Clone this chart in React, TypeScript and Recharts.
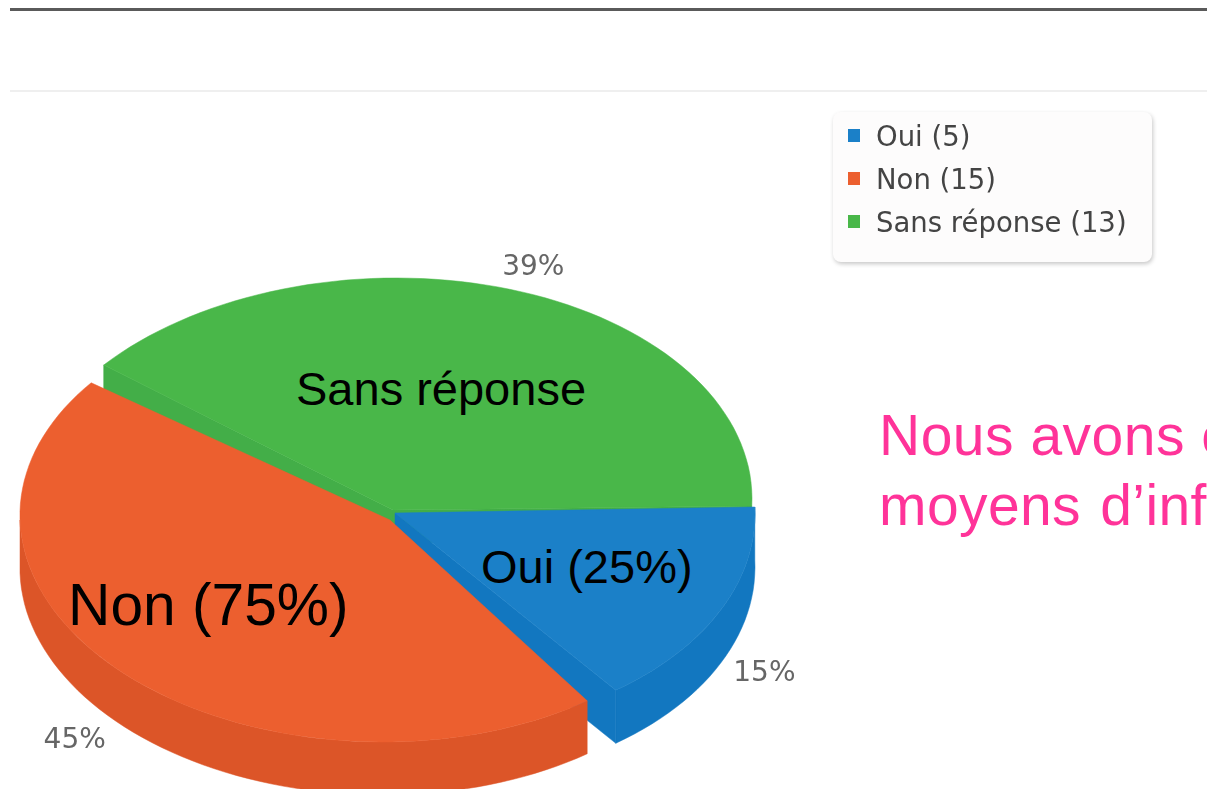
import React from 'react';
import { PieChart, Pie, Legend } from 'recharts';

const categories = ['Oui', 'Non', 'Sans réponse'];
const counts = [5, 15, 13];
const colors = ['#1b80c8', '#ec5f2f', '#49b749'];
const wallColors = ['#1277c0', '#dc5528', '#43ae48'];
const sliceLabels = ['Oui (25%)', 'Non (75%)', 'Sans réponse'];

const rows = categories.map((name, i) => ({ name, value: counts[i], fill: colors[i], wall: wallColors[i] }));

// projection of each exploded slice: arc offset, apex offset, radii and shear relative to the pie centre
const geom: Record<string, any> = {
  Oui: { ox: 12, oy: -3, ax: 5, ay: 3, sx: 0.98, ry: 225, thick: 53, sh: 0.05, lx: 1.17, ly: 161 },
  Non: { ox: -15, oy: 10, ax: 0, ay: 10, sx: 0.986, ry: 222, thick: 53, sh: 0.035, lx: 1.21, ly: 228 },
  'Sans réponse': { ox: -5, oy: -4, ax: 3, ay: 0, sx: 1.019, ry: 228, thick: 33, sh: -0.05, lx: 1.217, ly: -245 },
};
const drawOrder = ['Sans réponse', 'Oui', 'Non'];
const RAD = Math.PI / 180;

function pts(cx: number, cy: number, rx: number, ry: number, sh: number, a: number, b: number) {
  const n = Math.max(2, Math.ceil(Math.abs(a - b) / 2));
  const out: [number, number][] = [];
  for (let i = 0; i <= n; i++) {
    const t = (a + ((b - a) * i) / n) * RAD;
    const dy = -ry * Math.sin(t);
    out.push([cx + rx * Math.cos(t) + sh * dy, cy + dy]);
  }
  return out;
}
const toPath = (p: [number, number][]) => 'M' + p.map((q) => q[0].toFixed(1) + ' ' + q[1].toFixed(1)).join('L') + 'Z';

function makeSlice(only: string) {
  return function Slice(props: any) {
    const name = props.name ?? props.payload?.name;
    if (name !== only) return <g />;
    const g = geom[name];
    const { cx, cy, outerRadius, startAngle, endAngle, fill } = props;
    const wall = props.wall ?? props.payload?.wall;
    const ax = cx + g.ax;
    const ay = cy + g.ay;
    const acx = cx + g.ox;
    const acy = cy + g.oy;
    const rx = outerRadius * g.sx;
    const top = pts(acx, acy, rx, g.ry, g.sh, startAngle, endAngle);
    const walls: string[] = [];
    const vStart = Math.min(startAngle, 0);
    const vEnd = Math.max(endAngle, -180);
    if (vStart > vEnd) {
      const arc = pts(acx, acy, rx, g.ry, g.sh, vStart, vEnd);
      const low = arc.map((q) => [q[0], q[1] + g.thick] as [number, number]).reverse();
      walls.push(toPath([...arc, ...low]));
    }
    const edge = (p: [number, number]) =>
      toPath([[ax, ay], p, [p[0], p[1] + g.thick], [ax, ay + g.thick]]);
    if (Math.sin((startAngle + 90) * RAD) < -0.01) walls.push(edge(top[0]));
    if (Math.sin((endAngle - 90) * RAD) < -0.01) walls.push(edge(top[top.length - 1]));
    return (
      <g>
        {walls.map((d, i) => (
          <path key={i} d={d} fill={wall} stroke={wall} strokeWidth={0.5} />
        ))}
        <path d={toPath([[ax, ay], ...top])} fill={fill} stroke={fill} strokeWidth={0.5} />
      </g>
    );
  };
}

function percentLabel(props: any) {
  const g = geom[props.name ?? props.payload?.name];
  if (!g) return <g />;
  const t = props.midAngle * RAD;
  const x = props.cx + props.outerRadius * g.lx * Math.cos(t);
  const y = props.cy + g.ly;
  return (
    <text x={x} y={y} textAnchor="middle" dominantBaseline="central" fill="#666" fontSize={28}
      fontFamily="DejaVu Sans" style={{ filter: 'blur(0.6px)' }}>
      {Math.round(props.percent * 100)}%
    </text>
  );
}

function LegendBox() {
  return (
    <div style={{ width: 319, height: 150, boxSizing: 'border-box', background: '#fdfcfc', borderRadius: 8,
      boxShadow: '1px 2px 4px rgba(0,0,0,0.22)', padding: '2px 0 0 15px', fontFamily: 'DejaVu Sans', fontSize: 27.5,
      color: '#444', filter: 'blur(0.6px)' }}>
      {rows.map((r) => (
        <div key={r.name} style={{ display: 'flex', alignItems: 'center', height: 43, whiteSpace: 'nowrap' }}>
          <span style={{ width: 12, height: 13, background: r.fill, marginRight: 16 }} />
          {r.name} ({r.value})
        </div>
      ))}
    </div>
  );
}

const text = (t: string, left: number, top: number, size: number, color: string, extra: any = {}) => (
  <div key={t} style={{ position: 'absolute', left, top, fontFamily: 'Liberation Sans', fontSize: size, lineHeight: 1,
    color, whiteSpace: 'nowrap', ...extra }}>{t}</div>
);

export default function App() {
  return (
    <div style={{ position: 'absolute', left: 0, top: 0, width: 1207, height: 789, overflow: 'hidden', background: '#fff' }}>
      <div style={{ position: 'absolute', left: 10, right: 0, top: 8, height: 3, background: '#5a5a5a' }} />
      <div style={{ position: 'absolute', left: 10, right: 0, top: 90, height: 2, background: '#efefef' }} />
      <PieChart width={1207} height={789} margin={{ top: 0, right: 0, bottom: 0, left: 0 }}>
        {drawOrder.map((n) => (
          <Pie key={n} data={rows} dataKey="value" nameKey="name" cx={390} cy={510} outerRadius={360} startAngle={0}
            endAngle={-360} isAnimationActive={false} shape={makeSlice(n)} labelLine={false}
            label={n === 'Non' ? percentLabel : false} />
        ))}
        <Legend content={<LegendBox />} layout="vertical" wrapperStyle={{ position: 'absolute', left: 833, top: 112, width: 319 }} />
      </PieChart>
      {text(sliceLabels[2], 296, 365, 47, '#000')}
      {text(sliceLabels[0], 481, 543, 47, '#000')}
      {text(sliceLabels[1], 68, 576, 58.7, '#000')}
      {text('Nous avons é', 879, 407, 57, '#ff3399', { letterSpacing: 0.5 })}
      {text('moyens d’information', 879, 477, 57, '#ff3399', { wordSpacing: 3, letterSpacing: 0.4 })}
    </div>
  );
}
